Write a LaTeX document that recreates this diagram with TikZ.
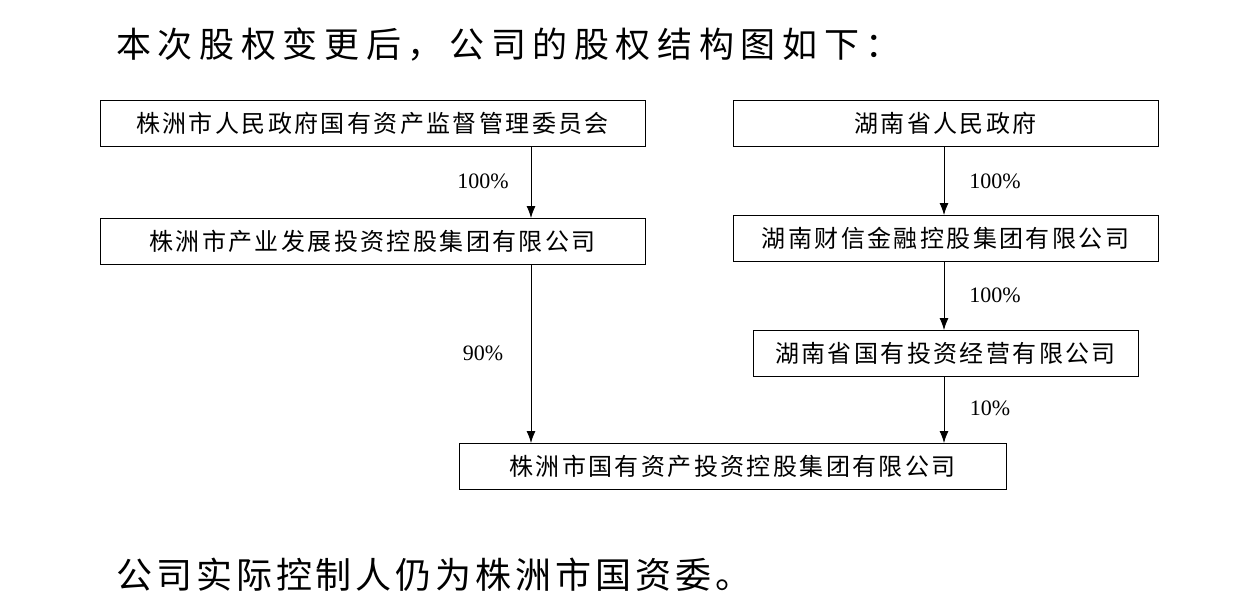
\documentclass[tikz,border=0pt]{standalone}
\usepackage{fontspec}
\setmainfont{Liberation Serif}
\newfontfamily\cjkbox[LetterSpace=10]{Noto Sans CJK SC}
\newfontfamily\cjktitle[LetterSpace=19]{Noto Sans CJK SC}
\newfontfamily\cjkfoot[LetterSpace=11]{Noto Sans CJK SC}
\usetikzlibrary{arrows.meta}
\begin{document}
\begin{tikzpicture}[x=1pt,y=-1pt,
 bx/.style={draw,line width=1pt,minimum height=46pt,inner sep=0pt,font=\cjkbox\fontsize{24}{24}\selectfont},
 pct/.style={font=\fontsize{22}{22}\selectfont},
 ar/.style={-{Latex[length=12pt,width=9pt]},line width=0.8pt}]
\useasboundingbox (0,0) rectangle (1236,606);
\node[anchor=west,inner sep=0pt,font=\cjktitle\fontsize{35}{35}\selectfont] (t) at (116,45) {本次股权变更后，公司的股权结构图如下：};
\node[bx,minimum width=545pt] (a) at (372.5,123) {株洲市人民政府国有资产监督管理委员会};
\node[bx,minimum width=425pt] (b) at (945.5,123) {湖南省人民政府};
\node[bx,minimum width=545pt] (c) at (372.5,241.5) {株洲市产业发展投资控股集团有限公司};
\node[bx,minimum width=425pt] (d) at (945.5,238.5) {湖南财信金融控股集团有限公司};
\node[bx,minimum width=385pt] (e) at (945.5,353) {湖南省国有投资经营有限公司};
\node[bx,minimum width=547pt] (f) at (732.5,466) {株洲市国有资产投资控股集团有限公司};
\coordinate (a1) at (531,146); \coordinate (c1) at (531,218);
\coordinate (c2) at (531,265); \coordinate (f1) at (531,443);
\coordinate (b1) at (944,146); \coordinate (d1) at (944,215);
\coordinate (d2) at (944,262); \coordinate (e1) at (944,330);
\coordinate (e2) at (944,376); \coordinate (f2) at (944,443);
\draw[ar] (a1) -- (c1); \draw[ar] (c2) -- (f1);
\draw[ar] (b1) -- (d1); \draw[ar] (d2) -- (e1); \draw[ar] (e2) -- (f2);
\node[pct] (p1) at (483,181) {100\%};
\node[pct] (p2) at (483,353) {90\%};
\node[pct] (p3) at (995,181) {100\%};
\node[pct] (p4) at (995,295) {100\%};
\node[pct] (p5) at (990,408) {10\%};
\node[anchor=west,inner sep=0pt,font=\cjkfoot\fontsize{36}{36}\selectfont] (s) at (116,575) {公司实际控制人仍为株洲市国资委。};
\end{tikzpicture}
\end{document}
